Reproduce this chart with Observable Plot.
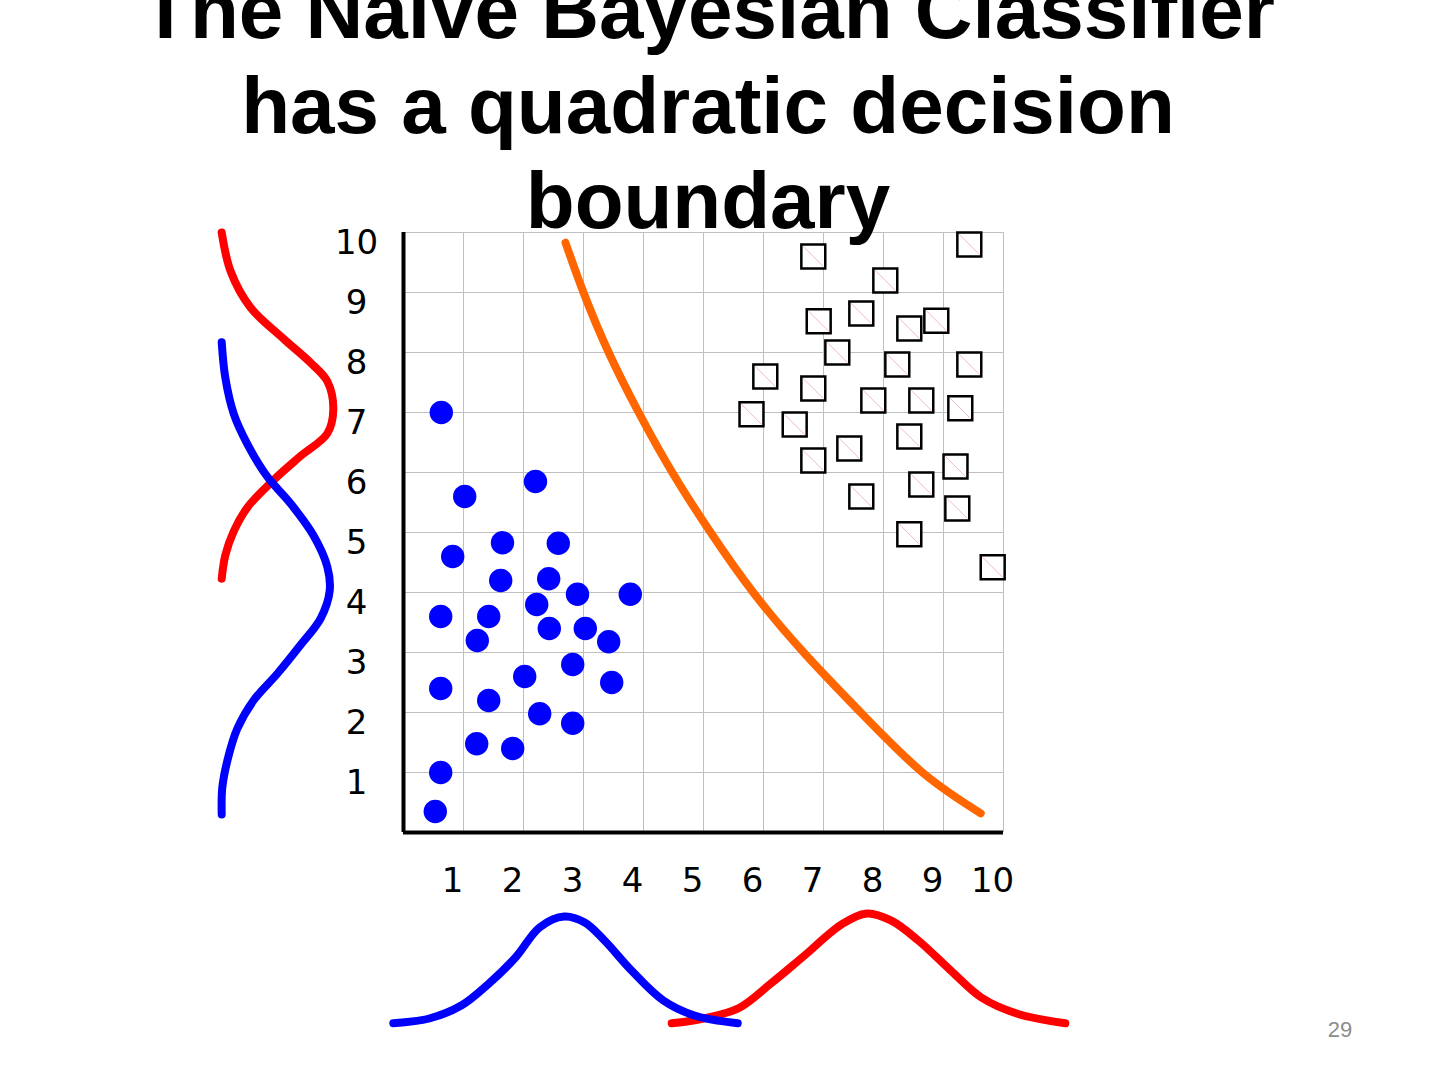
<!DOCTYPE html>
<html>
<head>
<meta charset="utf-8">
<script src="https://cdn.jsdelivr.net/npm/d3@7"></script>
<script src="https://cdn.jsdelivr.net/npm/@observablehq/plot@0.6"></script>
<style>
  html, body { margin: 0; padding: 0; background: white; }
  #page { position: relative; width: 1440px; height: 1080px; overflow: hidden; background: white; }
  #chart { position: absolute; left: 0; top: 0; }
  #title { position: absolute; left: 0; top: -37px; width: 1416px; text-align: center;
           font-family: "Liberation Sans", Arial, sans-serif; font-weight: bold; font-size: 80px;
           line-height: 95px; color: black; margin: 0; }
  #pagenum { position: absolute; left: 1310px; top: 1019px; width: 60px; text-align: center;
             font-family: "Liberation Sans", Arial, sans-serif; font-size: 22px; line-height: 22px; color: #8c8c8c; }
</style>
</head>
<body>
<div id="page">
  <div id="chart"></div>
  <h1 id="title">The Naïve Bayesian Classifier<br>has a quadratic decision<br>boundary</h1>
  <div id="pagenum">29</div>
</div>
<script>
const xTicks = [1, 2, 3, 4, 5, 6, 7, 8, 9, 10];
const yTicks = [1, 2, 3, 4, 5, 6, 7, 8, 9, 10];

// class 1: blue circles
const blueDots = [
  [0.63, 7.0], [1.02, 5.6], [2.2, 5.85], [0.82, 4.6], [1.65, 4.83], [2.58, 4.82],
  [1.62, 4.2], [2.42, 4.23], [2.9, 3.97], [3.78, 3.97], [0.62, 3.6], [1.42, 3.6],
  [2.22, 3.8], [1.23, 3.2], [2.43, 3.4], [3.03, 3.4], [3.42, 3.18], [0.62, 2.4],
  [2.82, 2.8], [2.02, 2.6], [3.47, 2.5], [1.42, 2.2], [2.27, 1.98], [2.82, 1.82],
  [1.22, 1.48], [1.82, 1.4], [0.62, 1.0], [0.53, 0.35]
];

// class 2: squares
const redSquares = [
  [6.83, 9.6], [9.43, 9.8], [8.03, 9.2], [6.92, 8.52], [7.63, 8.65], [8.43, 8.4],
  [8.88, 8.53], [7.23, 8.0], [8.23, 7.8], [9.43, 7.8], [6.03, 7.6], [6.83, 7.4],
  [7.83, 7.2], [8.63, 7.2], [9.28, 7.07], [5.8, 6.97], [6.52, 6.8], [8.43, 6.6],
  [7.43, 6.4], [6.83, 6.2], [9.2, 6.1], [8.63, 5.8], [7.63, 5.6], [9.23, 5.4],
  [8.43, 4.97], [9.82, 4.42]
];

// quadratic decision boundary
const boundary = [
  [2.70, 9.83], [3.00, 9.0], [3.42, 8.0], [3.92, 7.0], [4.48, 6.0], [5.12, 5.0],
  [5.83, 4.0], [6.67, 3.0], [7.62, 2.0], [8.65, 1.0], [9.62, 0.32]
];

// class-conditional densities on the y feature (drawn left of the axis)
const leftRed = [
  [-3.03, 10.0], [-2.88, 9.35], [-2.55, 8.75], [-2.0, 8.23], [-1.55, 7.83], [-1.27, 7.52],
  [-1.17, 7.05], [-1.27, 6.65], [-1.72, 6.27], [-2.17, 5.87], [-2.6, 5.42], [-2.83, 5.02],
  [-2.97, 4.62], [-3.03, 4.23]
];
const leftBlue = [
  [-3.03, 8.17], [-2.97, 7.58], [-2.83, 6.98], [-2.6, 6.47], [-2.27, 5.93], [-1.88, 5.48],
  [-1.5, 4.95], [-1.27, 4.43], [-1.23, 4.03], [-1.38, 3.57], [-1.72, 3.12], [-2.1, 2.65],
  [-2.5, 2.2], [-2.77, 1.73], [-2.93, 1.22], [-3.02, 0.75], [-3.03, 0.3]
];

// class-conditional densities on the x feature (drawn below the axis)
const bottomBlue = [
  [-0.17, -3.18], [0.43, -3.1], [0.97, -2.88], [1.42, -2.52], [1.87, -2.08], [2.27, -1.58],
  [2.68, -1.4], [3.02, -1.5], [3.35, -1.8], [3.8, -2.3], [4.33, -2.8], [4.85, -3.05], [5.57, -3.18]
];
const bottomRed = [
  [4.47, -3.18], [5.0, -3.1], [5.6, -2.92], [6.12, -2.52], [6.65, -2.08], [7.32, -1.52],
  [7.73, -1.35], [8.13, -1.47], [8.58, -1.8], [9.12, -2.3], [9.63, -2.75], [10.23, -3.02], [11.03, -3.18]
];

const curveStyle = {strokeWidth: 8, curve: "catmull-rom", strokeLinecap: "round", strokeLinejoin: "round"};

const chart = Plot.plot({
  width: 1440,
  height: 1080,
  marginLeft: 403,
  marginRight: 437,
  marginTop: 232,
  marginBottom: 248,
  x: {domain: [0, 10]},
  y: {domain: [0, 10]},
  style: {background: "white", color: "black", fontFamily: "DejaVu Sans, sans-serif", overflow: "visible"},
  marks: [
    Plot.gridX(xTicks, {stroke: "#bfbfbf", strokeOpacity: 1, strokeWidth: 1}),
    Plot.gridY(yTicks, {stroke: "#bfbfbf", strokeOpacity: 1, strokeWidth: 1}),
    Plot.axisX({ticks: xTicks, tickSize: 0, tickPadding: 35, dx: -11, fontSize: 34, label: null, fill: "black"}),
    Plot.axisY({ticks: yTicks, tickSize: 0, tickPadding: 47, textAnchor: "middle", dy: 11, fontSize: 34, label: null, fill: "black"}),
    Plot.ruleX([0], {stroke: "black", strokeWidth: 4}),
    Plot.ruleY([0], {stroke: "black", strokeWidth: 4}),
    Plot.line(boundary, {stroke: "#ff6600", strokeWidth: 8, curve: "natural"}),
    Plot.line(leftRed, {stroke: "#ff0000", ...curveStyle}),
    Plot.line(leftBlue, {stroke: "#0000ff", ...curveStyle}),
    Plot.line(bottomRed, {stroke: "#ff0000", ...curveStyle}),
    Plot.line(bottomBlue, {stroke: "#0000ff", ...curveStyle}),
    Plot.dot(blueDots, {r: 11.7, fill: "#0000ff", stroke: null}),
    Plot.dot(redSquares, {symbol: "square", r: 13.5, fill: "white", stroke: "black", strokeWidth: 2.5}),
    Plot.link(redSquares, {
      x1: d => d[0] - 0.17, y1: d => d[1] + 0.17,
      x2: d => d[0] + 0.17, y2: d => d[1] - 0.17,
      stroke: "#f2a7b3", strokeWidth: 0.8
    })
  ]
});
document.getElementById("chart").appendChild(chart);
</script>
</body>
</html>
